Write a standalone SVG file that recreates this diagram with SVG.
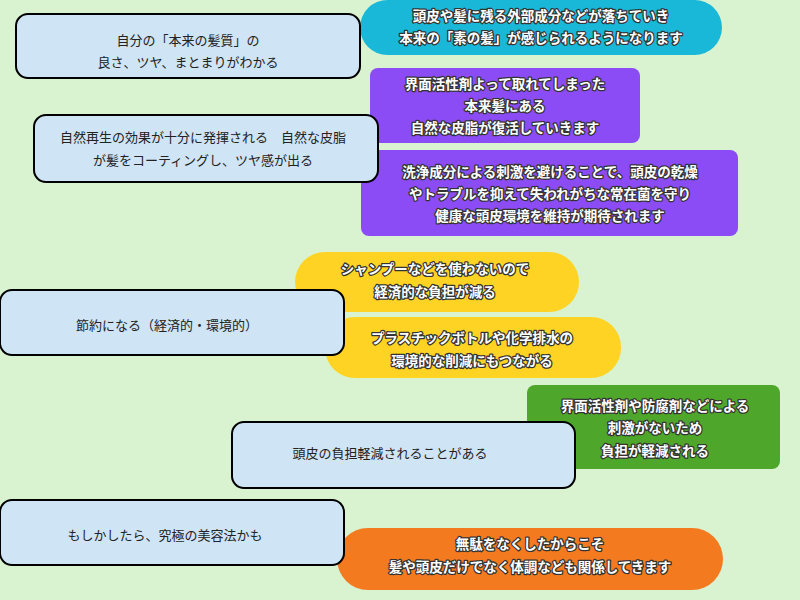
<svg xmlns="http://www.w3.org/2000/svg" width="800" height="600" viewBox="0 0 800 600">
<style>
.n{fill:#cfe4f5;stroke:#000;stroke-width:2}
.t{font-family:"Noto Sans CJK JP",sans-serif;font-size:13px;fill:#222;text-anchor:middle}
.c{font-family:"Noto Sans CJK JP",sans-serif;font-size:13.5px;font-weight:bold;fill:#fff;stroke:#333;stroke-width:2.5;paint-order:stroke;stroke-linejoin:round;text-anchor:middle}
</style>
<rect width="800" height="600" fill="#d9f2d0"/>
<g id="connectors"></g>
<g id="b1"><rect x="360" y="0" width="362" height="55" rx="27.5" fill="#1ab8d8"/>
<text class="c" x="541" y="21">頭皮や髪に残る外部成分などが落ちていき</text><text class="c" x="541" y="43">本来の「素の髪」が感じられるようになります</text></g>
<g id="b2"><rect x="370" y="68" width="270" height="75" rx="8" fill="#8c4cf5"/>
<text class="c" x="505" y="89">界面活性剤よって取れてしまった</text><text class="c" x="505" y="111">本来髪にある</text><text class="c" x="505" y="133">自然な皮脂が復活していきます</text></g>
<g id="b3"><rect x="361" y="150" width="377" height="86" rx="8" fill="#8c4cf5"/>
<text class="c" x="550" y="177">洗浄成分による刺激を避けることで、頭皮の乾燥</text><text class="c" x="550" y="199">やトラブルを抑えて失われがちな常在菌を守り</text><text class="c" x="550" y="221">健康な頭皮環境を維持が期待されます</text></g>
<g id="b4"><rect x="295" y="252" width="284" height="60" rx="30" fill="#ffd324"/>
<text class="c" x="435" y="274">シャンプーなどを使わないので</text><text class="c" x="435" y="297">経済的な負担が減る</text></g>
<g id="b5"><rect x="325" y="317" width="296" height="61" rx="30" fill="#ffd324"/>
<text class="c" x="472" y="343">プラスチックボトルや化学排水の</text><text class="c" x="472" y="366">環境的な削減にもつながる</text></g>
<g id="b6"><rect x="527" y="385" width="253" height="84" rx="8" fill="#4ea72a"/>
<text class="c" x="655" y="411">界面活性剤や防腐剤などによる</text><text class="c" x="655" y="433">刺激がないため</text><text class="c" x="655" y="456">負担が軽減される</text></g>
<g id="b7"><rect x="337" y="528" width="386" height="62" rx="31" fill="#f47a20"/>
<text class="c" x="530" y="549">無駄をなくしたからこそ</text><text class="c" x="530" y="572">髪や頭皮だけでなく体調なども関係してきます</text></g>
<g id="n1"><rect class="n" x="16" y="14" width="344" height="64" rx="12"/>
<text class="t" x="188" y="45">自分の「本来の髪質」の</text><text class="t" x="188" y="67">良さ、ツヤ、まとまりがわかる</text></g>
<g id="n2"><rect class="n" x="34" y="115" width="344" height="67" rx="12"/>
<text class="t" x="203" y="142">自然再生の効果が十分に発揮される　自然な皮脂</text><text class="t" x="203" y="165">が髪をコーティングし、ツヤ感が出る</text></g>
<g id="n3"><rect class="n" x="0" y="290" width="344" height="65" rx="12"/>
<text class="t" x="167" y="330">節約になる（経済的・環境的）</text></g>
<g id="n4"><rect class="n" x="232" y="422" width="343" height="66" rx="12"/>
<text class="t" x="390" y="458">頭皮の負担軽減されることがある</text></g>
<g id="n5"><rect class="n" x="0" y="500" width="344" height="65" rx="12"/>
<text class="t" x="165" y="540">もしかしたら、究極の美容法かも</text></g>
</svg>
